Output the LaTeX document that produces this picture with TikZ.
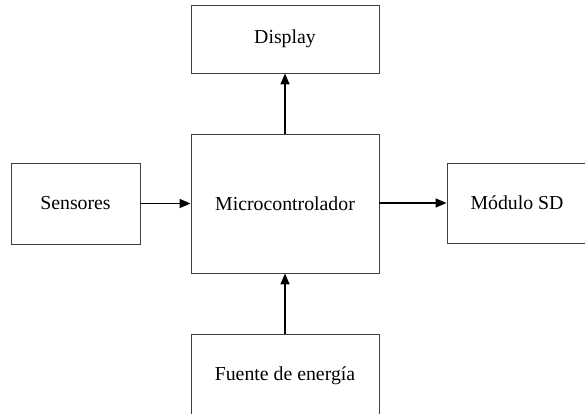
\documentclass[tikz,border=0pt]{standalone}
\usepackage{fontspec}
\setmainfont{Liberation Serif}
\usetikzlibrary{arrows.meta}

\begin{document}
\begin{tikzpicture}[x = 1pt, y = -1pt,
    bloque/.style = {draw = black!75, line width = .9pt, fill = white,
                     inner sep = 0pt, font = \fontsize{19.8}{23}\selectfont},
    flecha/.style = {line width = 1.6pt, -{Triangle[length = 11pt, width = 9pt]}}]
        \useasboundingbox (0,0) rectangle (585,414);
        \fill[white] (0,0) rectangle (585,414);

        % bloques
        \node[bloque, minimum width = 188pt, minimum height = 68pt]
              (disp) at (285,39) {Display};
        \node[bloque, minimum width = 188pt, minimum height = 139pt]
              (micro) at (285,203.5) {Microcontrolador};
        \node[bloque, minimum width = 129pt, minimum height = 81pt]
              (sens) at (75.5,203.5) {Sensores};
        \node[bloque, minimum width = 140pt, minimum height = 80pt]
              (sd) at (517,203) {Módulo SD};
        \node[bloque, minimum width = 188pt, minimum height = 84pt]
              (fuente) at (285,376) {Fuente de energía};

        % conexiones
        \draw[flecha] (micro.north) -- (disp.south);
        \draw[flecha] (sens.east) -- (sens.east -| micro.west);
        \draw[flecha] (micro.east |- sd.west) -- (sd.west);
        \draw[flecha] (fuente.north) -- (micro.south);
      \end{tikzpicture}
\end{document}
